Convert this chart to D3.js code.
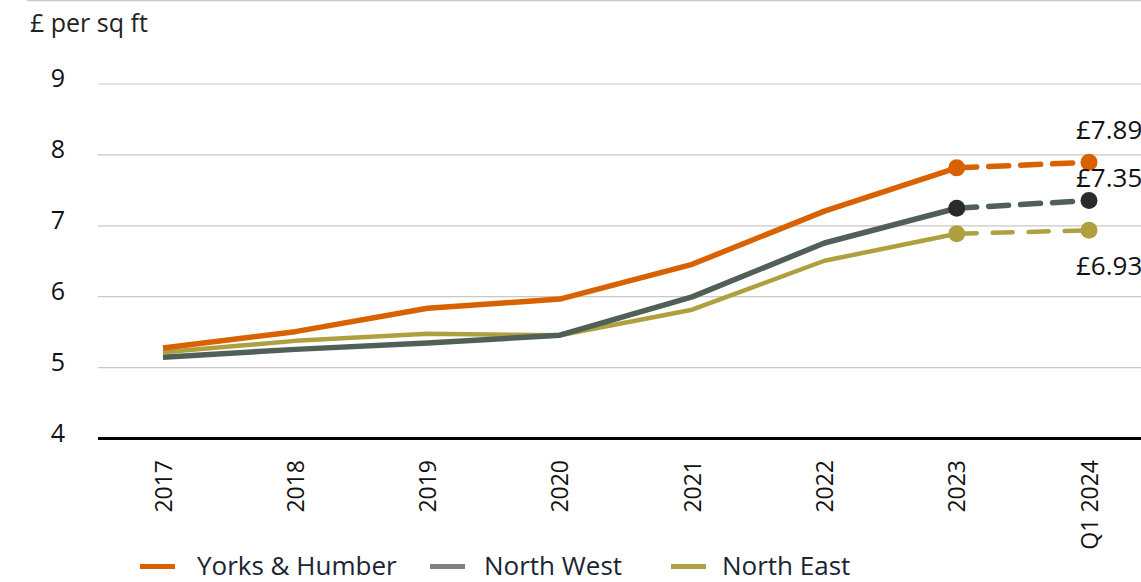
<!DOCTYPE html>
<html><head><meta charset="utf-8">
<script src="https://cdn.jsdelivr.net/npm/d3@7"></script>
<style>body{margin:0;background:#fff;overflow:hidden}svg{display:block;font-family:"Open Sans","Noto Sans",sans-serif}</style>
</head><body><svg id="c" width="1141" height="582"></svg>
<script>
const categories = ["2017","2018","2019","2020","2021","2022","2023","Q1 2024"];
const yorks = [5.27,5.50,5.83,5.96,6.45,7.20,7.81,7.89];
const northWest = [5.14,5.25,5.34,5.45,5.99,6.75,7.24,7.35];
const northEast = [5.21,5.37,5.47,5.45,5.81,6.50,6.88,6.93];
const yTicks = [4,5,6,7,8,9];
const seriesNames = ["Yorks & Humber","North West","North East"];
const endLabels = ["£7.89","£7.35","£6.93"];

const svg = d3.select("#c");
const x = d3.scalePoint().domain(categories).range([163, 1089]);
const y = d3.scaleLinear().domain([4,9]).range([438, 83.5]);

svg.append("line").attr("x1",27).attr("x2",1141).attr("y1",0.5).attr("y2",0.5).attr("stroke","#c8c8c8").attr("stroke-width",1.5);
svg.append("text").attr("x",30).attr("y",32).attr("font-size",25).attr("fill","#222").text("£ per sq ft");

const yAxis = svg.append("g").attr("transform","translate(98,0)")
  .call(d3.axisLeft(y).tickValues(yTicks).tickSize(-1043).tickFormat(d3.format("d")).tickPadding(25));
yAxis.select(".domain").remove();
yAxis.selectAll(".tick line").attr("stroke","#c8c8c8").attr("stroke-width",1.2);
yAxis.selectAll(".tick text").attr("font-size",25).attr("fill","#111").attr("text-anchor","middle").attr("dx",-15).attr("y",-5).attr("font-family","'Open Sans','Noto Sans',sans-serif");
yAxis.selectAll(".tick").filter(d=>d===4).select("line").attr("stroke","#000").attr("stroke-width",3);

const xAxis = svg.append("g").attr("transform","translate(0,438)")
  .call(d3.axisBottom(x).tickSize(0).tickPadding(0));
xAxis.select(".domain").remove();
xAxis.selectAll(".tick text").attr("font-size",23).attr("fill","#111").attr("font-family","'Open Sans','Noto Sans',sans-serif")
  .attr("transform","rotate(-90)").attr("text-anchor","end").attr("x",-22).attr("y",0).attr("dy","0.35em");

const series = [
  {vals:yorks, color:"#d96200", dot:"#d96200", w:5.5, dash:"20,12"},
  {vals:northWest, color:"#506057", dot:"#2a2a2a", w:5.5, dash:"20,12"},
  {vals:northEast, color:"#afa03f", dot:"#afa03f", w:4.5, dash:"20,16"}
];
const line = d3.line().x(d=>x(d.c)).y(d=>y(d.v));
[2,1,0].forEach(i=>{
  const s = series[i];
  const pts = s.vals.map((v,j)=>({c:categories[j],v}));
  svg.append("path").datum(pts.slice(0,7)).attr("d",line).attr("fill","none").attr("stroke",s.color).attr("stroke-width",s.w).attr("stroke-linejoin","round");
  svg.append("path").datum(pts.slice(6)).attr("d",line).attr("fill","none").attr("stroke",s.color).attr("stroke-width",s.w).attr("stroke-dasharray",s.dash).attr("stroke-linecap","round");
  svg.selectAll(null).data(pts.slice(6)).enter().append("circle").attr("cx",d=>x(d.c)).attr("cy",d=>y(d.v)).attr("r",8.5).attr("fill",s.dot);
});

const labelY = [yorks[7], northWest[7], northEast[7]];
const labelOff = [-23, -13, 45];
endLabels.forEach((t,i)=>{
  svg.append("text").attr("x",1076).attr("y",y(labelY[i])+labelOff[i]).attr("font-size",26).attr("fill","#111").text(t);
});

const legendX = [[140,197],[430,484],[671,722]];
const legendCol = ["#d96200","#808080","#afa03f"];
seriesNames.forEach((n,i)=>{
  svg.append("rect").attr("x",legendX[i][0]).attr("y",564).attr("width",35).attr("height",5).attr("fill",legendCol[i]);
  svg.append("text").attr("x",legendX[i][1]).attr("y",575).attr("font-size",26).attr("fill","#1a2433").text(n);
});
</script></body></html>
